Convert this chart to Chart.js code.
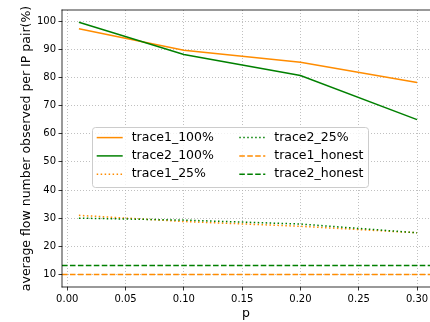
<!DOCTYPE html>
<html>
<head>
<meta charset="utf-8">
<script src="https://cdn.jsdelivr.net/npm/chart.js@4/dist/chart.umd.min.js"></script>
<style>
html,body{margin:0;padding:0;background:#fff;overflow:hidden;}
canvas{display:block;}
</style>
</head>
<body>
<canvas id="c" width="430" height="322" style="width:430px;height:322px"></canvas>
<script>
// ---- data ----
const pValues = [0.01, 0.1, 0.2, 0.3];
const trace1_100 = [97.3, 89.7, 85.4, 78.2];
const trace2_100 = [99.6, 88.2, 80.7, 65.0];
const trace1_25 = [31.0, 28.8, 27.1, 24.8];
const trace2_25 = [30.0, 29.3, 27.9, 24.8];
const trace1_honest = 10.0;
const trace2_honest = 13.2;
const xTickValues = [0.00, 0.05, 0.10, 0.15, 0.20, 0.25, 0.30];
const yTickValues = [10, 20, 30, 40, 50, 60, 70, 80, 90, 100];
const seriesLabels = ['trace1_100%', 'trace2_100%', 'trace1_25%', 'trace2_25%', 'trace1_honest', 'trace2_honest'];

// ---- styling / axis limits (the reference figure is cropped at the right) ----
const X_MIN = -0.0045, X_MAX = 0.3111;
const Y_MIN = 5.525, Y_MAX = 103.98;
const ORANGE = '#ff8c00', GREEN = '#008000';
const FAMILY = "'DejaVu Sans', sans-serif";
const DOT = [1.5, 2.475], DASH = [5.55, 2.4];

const pts = arr => pValues.map((p, i) => ({x: p, y: arr[i]}));
const hline = v => [{x: X_MIN, y: v}, {x: X_MAX, y: v}];

const specs = [
  {data: pts(trace1_100), color: ORANGE, dash: []},
  {data: pts(trace2_100), color: GREEN, dash: []},
  {data: pts(trace1_25), color: ORANGE, dash: DOT},
  {data: pts(trace2_25), color: GREEN, dash: DOT},
  {data: hline(trace1_honest), color: ORANGE, dash: DASH},
  {data: hline(trace2_honest), color: GREEN, dash: DASH},
];
const datasets = specs.map((s, i) => ({
  label: seriesLabels[i],
  data: s.data,
  borderColor: s.color,
  backgroundColor: s.color,
  borderDash: s.dash,
  borderWidth: 1.5,
  pointRadius: 0,
  tension: 0,
  fill: false,
  order: specs.length - i,
}));

const framePlugin = {
  id: 'frame',
  afterDatasetsDraw(chart) {
    const {ctx, chartArea: a} = chart;
    ctx.save();
    ctx.fillStyle = '#000';
    const w = 0.8, h = w / 2;
    const right = a.right;
    ctx.fillRect(a.left - h, a.top - h, right - a.left + h, w);      // top spine
    ctx.fillRect(a.left - h, a.bottom - h, right - a.left + h, w);   // bottom spine
    ctx.fillRect(a.left - h, a.top - h, w, a.bottom - a.top + w);    // left spine
    ctx.restore();

    // legend (matplotlib style, inside axes, 2 columns)
    const box = {x: 92.5, y: 127.5, w: 276, h: 60, r: 3};
    ctx.save();
    ctx.beginPath();
    ctx.moveTo(box.x + box.r, box.y);
    ctx.arcTo(box.x + box.w, box.y, box.x + box.w, box.y + box.h, box.r);
    ctx.arcTo(box.x + box.w, box.y + box.h, box.x, box.y + box.h, box.r);
    ctx.arcTo(box.x, box.y + box.h, box.x, box.y, box.r);
    ctx.arcTo(box.x, box.y, box.x + box.w, box.y, box.r);
    ctx.closePath();
    ctx.fillStyle = 'rgba(255,255,255,0.8)';
    ctx.fill();
    ctx.strokeStyle = '#cccccc';
    ctx.lineWidth = 1;
    ctx.stroke();
    const colX = [96.7, 239.3];
    const rowY = [137.6, 155.9, 174.2];
    ctx.font = '12.5px ' + FAMILY;
    ctx.textBaseline = 'middle';
    ctx.textAlign = 'left';
    chart.data.datasets.forEach((d, i) => {
      const c = Math.floor(i / 3), r = i % 3;
      const x = colX[c], y = rowY[r];
      ctx.beginPath();
      ctx.strokeStyle = d.borderColor;
      ctx.lineWidth = 1.5;
      ctx.setLineDash(d.borderDash);
      ctx.moveTo(x, y);
      ctx.lineTo(x + 26, y);
      ctx.stroke();
      ctx.setLineDash([]);
      ctx.fillStyle = '#000';
      ctx.fillText(d.label, x + 35, y);
    });
    ctx.restore();
  }
};

const tickFont = {family: FAMILY, size: 10};
const titleFont = {family: FAMILY, size: 12.5};

new Chart(document.getElementById('c'), {
  type: 'line',
  data: {datasets},
  plugins: [framePlugin],
  options: {
    responsive: false,
    animation: false,
    devicePixelRatio: 1,
    layout: {padding: {top: 10, right: 0, left: 0, bottom: 0}},
    plugins: {legend: {display: false}, tooltip: {enabled: false}},
    scales: {
      x: {
        type: 'linear', min: X_MIN, max: X_MAX,
        afterBuildTicks: s => { s.ticks = xTickValues.map(v => ({value: v})); },
        afterFit: s => { s.height = 35; s.paddingLeft = 0; s.paddingRight = 0; },
        ticks: {callback: v => Number(v).toFixed(2), font: tickFont, color: '#000', padding: 3, maxRotation: 0, autoSkip: false},
        grid: {color: '#b0b0b0', lineWidth: 0.8, tickLength: 3.5, tickColor: '#000', tickWidth: 0.8, tickBorderDash: []},
        border: {display: false, dash: [1, 2]},
        title: {display: true, text: 'p', font: titleFont, color: '#000', padding: {top: 0, bottom: 1}},
      },
      y: {
        type: 'linear', min: Y_MIN, max: Y_MAX,
        afterBuildTicks: s => { s.ticks = yTickValues.map(v => ({value: v})); },
        afterFit: s => { s.width = 62; s.paddingTop = 0; s.paddingBottom = 0; },
        ticks: {font: tickFont, color: '#000', padding: 2.5, autoSkip: false},
        grid: {color: '#b0b0b0', lineWidth: 0.8, tickLength: 3.5, tickColor: '#000', tickWidth: 0.8, tickBorderDash: []},
        border: {display: false, dash: [1, 2]},
        title: {display: true, text: 'average flow number observed per IP pair(%)', font: titleFont, color: '#000', padding: {top: 19.5, bottom: 0}},
      }
    }
  }
});
</script>
</body>
</html>
